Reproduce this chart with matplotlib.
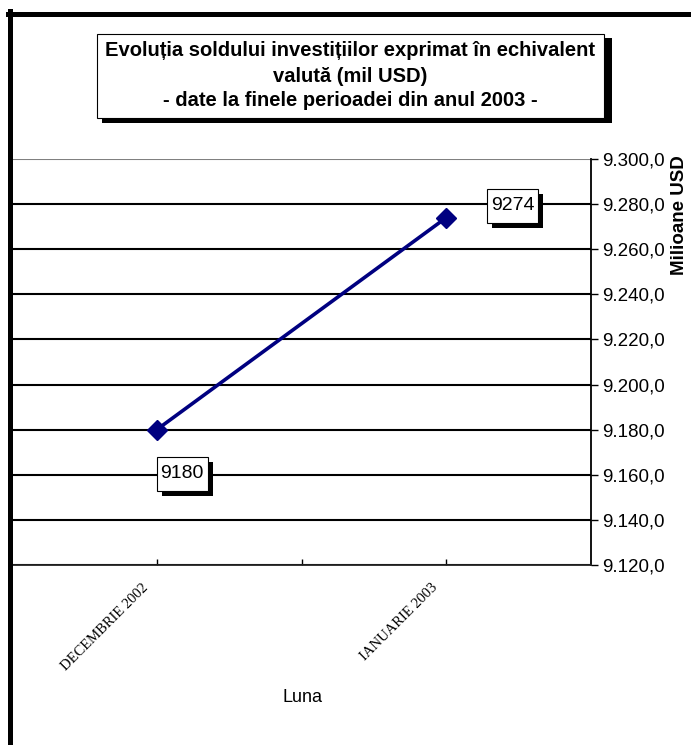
import matplotlib
matplotlib.use("Agg")
import matplotlib.pyplot as plt
from matplotlib.ticker import FuncFormatter
from matplotlib.patches import Rectangle
from matplotlib.transforms import IdentityTransform, ScaledTranslation

# date
luni = ['DECEMBRIE 2002', 'IANUARIE 2003']
sold = [9180, 9274]
y_min, y_max, y_pas = 9120, 9300, 20

W, H = 691, 745
fig = plt.figure(figsize=(W / 100, H / 100), dpi=100)
plt.rcParams['font.family'] = ['Liberation Sans', 'DejaVu Sans']


def px(x, y):
    return x / W, 1 - y / H


# chenar exterior (gros, negru)
fig.add_artist(plt.Line2D([10 / W, 10 / W], [0, 1 - 11 / H], transform=fig.transFigure,
                          color='black', linewidth=3.6))
fig.add_artist(plt.Line2D([8 / W, 1], [1 - 13.5 / H, 1 - 13.5 / H], transform=fig.transFigure,
                          color='black', linewidth=3.6))

ax = fig.add_axes([12 / W, 1 - 565 / H, (591 - 12) / W, (565 - 159) / H])
x = list(range(len(luni)))
ax.plot(x, sold, color='#000080', linewidth=2.6, marker='D', markersize=10, zorder=5)

ax.set_xlim(-0.5, len(luni) - 0.5)
ax.set_ylim(y_min, y_max)
ax.set_yticks(range(y_min, y_max + 1, y_pas))
ax.yaxis.tick_right()
ax.yaxis.set_major_formatter(FuncFormatter(
    lambda v, p: '{:,.1f}'.format(v).replace(',', ' ').replace('.', ',').replace(' ', '.')))
ax.tick_params(axis='y', labelsize=13.5, length=5, width=1, pad=3)

ax.set_xticks([-0.5 + i * 0.5 for i in range(1, 2 * len(luni))])
ax.set_xticklabels([])
ax.tick_params(axis='x', length=4, width=1, direction='in')
for i, l in enumerate(luni):
    ax.text(i - 0.02, y_min - 7, l, rotation=45, ha='right', va='top',
            fontsize=10.5, family='Liberation Serif')

ax.grid(axis='y', color='black', linewidth=1.5)
for sp in ['top', 'left']:
    ax.spines[sp].set_visible(False)
ax.spines['right'].set_linewidth(1.3)
ax.spines['bottom'].set_linewidth(1.3)
ax.spines['bottom'].set_color('#222222')
ax.yaxis.get_gridlines()[-1].set_color('#808080')

# etichete de date cu umbra (casete in pixeli fata de punct)
offs = [(25.5, -44), (66.5, 12)]
bw, bh = 51, 34
for xi, yi, (dx, dy) in zip(x, sold, offs):
    tr = IdentityTransform() + ScaledTranslation(xi, yi, ax.transData)
    ax.add_patch(Rectangle((dx - bw / 2 + 5, dy - bh / 2 - 5), bw, bh, transform=tr,
                           fc='black', ec='none', zorder=6, clip_on=False))
    ax.add_patch(Rectangle((dx - bw / 2, dy - bh / 2), bw, bh, transform=tr,
                           fc='white', ec='black', lw=0.8, zorder=7, clip_on=False))
    ax.annotate(str(yi), (xi, yi), xytext=(dx, dy), textcoords='offset pixels',
                ha='center', va='center', fontsize=14, zorder=8)

# titlu in caseta cu umbra
fig.add_artist(Rectangle(px(102, 123), 510 / W, 85 / H, transform=fig.transFigure,
                         fc='black', ec='none'))
fig.add_artist(Rectangle(px(97, 118), 507 / W, 84 / H, transform=fig.transFigure,
                         fc='white', ec='black', lw=0.8))
titlu = ['Evoluția soldului investițiilor exprimat în echivalent',
         'valută (mil USD)',
         '- date la finele perioadei din anul 2003 -']
for k, t in enumerate(titlu):
    fig.text(*px(350, 51 + k * 25), t, ha='center', va='center', fontsize=14.5, fontweight='bold')

fig.text(*px(680, 215), 'Milioane USD', rotation=90, ha='center', va='center',
         fontsize=13.5, fontweight='bold')
fig.text(*px(303, 697), 'Luna', ha='center', va='center', fontsize=13)

fig.savefig('out.png', dpi=100)
